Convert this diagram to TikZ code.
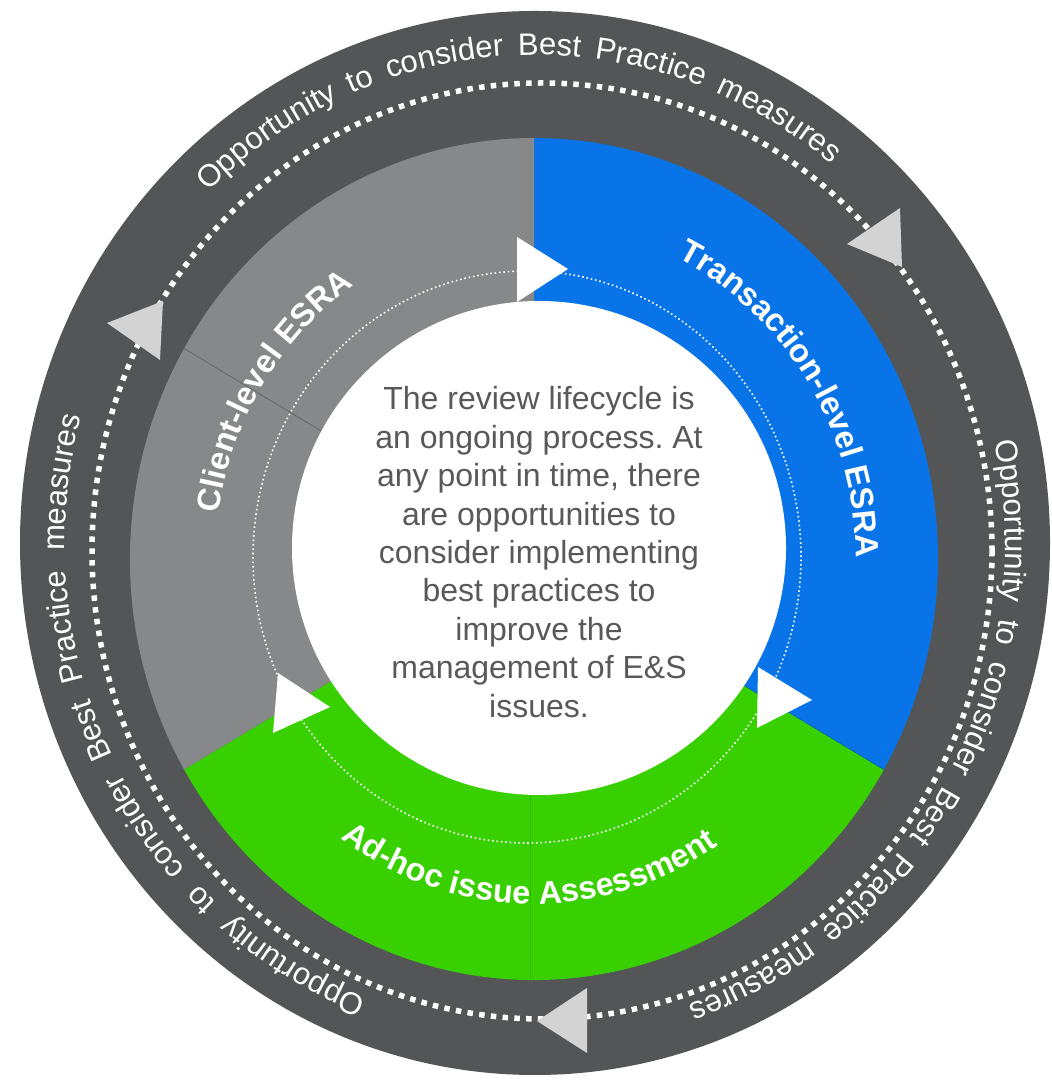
\documentclass[tikz,border=0pt]{standalone}
\usepackage{fontspec}
\setmainfont{Liberation Sans}
\usetikzlibrary{decorations.text}
\frenchspacing

\definecolor{bandgray}{HTML}{545557}
\definecolor{ringgray}{HTML}{87888A}
\definecolor{ringblue}{HTML}{0874E8}
\definecolor{ringgreen}{HTML}{38D000}
\definecolor{arrowgray}{HTML}{D3D3D3}
\definecolor{bodytext}{HTML}{595959}

\begin{document}
\begin{tikzpicture}[x=1pt,y=1pt,
  outertri/.style={fill=arrowgray},
  innertri/.style={fill=white},
  seamline/.style={line width=0.8pt},
  ringlabel/.style={decorate, decoration={text along path, text color=white,
      text align=center, text={|\fontsize{32.5}{38}\selectfont\bfseries|#1}}},
  bandlabel/.style={decorate, decoration={text along path, text color=white,
      text align={fit to path stretching spaces},
      text={|\fontsize{31}{36}\selectfont|Opportunity to consider Best Practice measures}}},
]
\useasboundingbox (0,0) rectangle (1051,1083);

% centres of the rings
\coordinate (bandc) at (535,540);
\coordinate (ringc) at (534,524);
\coordinate (holec) at (539,535);
\coordinate (dotc) at (527,526);
\coordinate (bigdotc) at (542,532);
\coordinate (textc) at (535,540);

% dark outer band
\fill[bandgray] (bandc) ellipse [x radius=515, y radius=532];

% three coloured stages
\fill[ringblue] (ringc) -- ++(90:404 and 421)
  arc [start angle=90, end angle=-30, x radius=404, y radius=421] -- cycle;
\fill[ringgreen] (ringc) -- ++(-30:404 and 421)
  arc [start angle=-30, end angle=-150, x radius=404, y radius=421] -- cycle;
\fill[ringgray] (ringc) -- ++(210:404 and 421)
  arc [start angle=210, end angle=90, x radius=404, y radius=421] -- cycle;

% seams between the pieces
\draw[seamline, ringgray!75!black] (ringc) -- ++(150:404 and 421);
\draw[seamline, ringgreen!88!black] (ringc) ++(-4,0) -- ++(270:404 and 421);
\draw[seamline, ringblue!85!black] (ringc) -- ++(-30:404 and 421);

% white centre
\fill[white] (holec) circle [radius=247];

% dotted loops
\draw[white, line width=1.6, dash pattern=on 1.6 off 2.8]
  (dotc) ellipse [x radius=274, y radius=286];
\draw[white, line width=5.5, dash pattern=on 5.5 off 6.3]
  (bigdotc) ellipse [x radius=450, y radius=468];

% arrowheads on the inner loop
\fill[innertri] (517,846) -- (517,781) -- (568,814) -- cycle;
\fill[innertri] (278,410) -- (273,350) -- (330,376) -- cycle;
\fill[innertri] (758,416) -- (757,355) -- (812,383) -- cycle;

% arrowheads on the outer loop
\fill[outertri] (900,875) -- (902,816) -- (847,839) -- cycle;
\fill[outertri] (163,782) -- (160,723) -- (107,760) -- cycle;
\fill[outertri] (587,95) -- (587,30) -- (537,62) -- cycle;

% stage names
\path[ringlabel={Client-level ESRA}] (ringc) ++(186:318 and 332)
  arc [start angle=186, end angle=110, x radius=318, y radius=332];
\path[ringlabel={Transaction-level ESRA}] (ringc) ++(70:322 and 336)
  arc [start angle=70, end angle=-6, x radius=322, y radius=336];
\path[ringlabel={Ad-hoc issue Assessment}] (ringc) ++(230:330 and 345)
  arc [start angle=230, end angle=308, x radius=330, y radius=345];

% band captions
\path[bandlabel] (textc) ++(134:470 and 488)
  arc [start angle=134, end angle=51, x radius=470, y radius=488];
\path[bandlabel] (textc) ++(12:470 and 488)
  arc [start angle=12, end angle=-71, x radius=470, y radius=488];
\path[bandlabel] (textc) ++(249:470 and 488)
  arc [start angle=249, end angle=165, x radius=470, y radius=488];

% centre message
\node[align=center, text=bodytext, font=\fontsize{32}{38.4}\selectfont]
  (msg) at (539,531) {The review lifecycle is\\an ongoing process. At\\any point in time, there\\are opportunities to\\consider implementing\\best practices to\\improve the\\management of E\&S\\issues.};
\end{tikzpicture}
\end{document}
